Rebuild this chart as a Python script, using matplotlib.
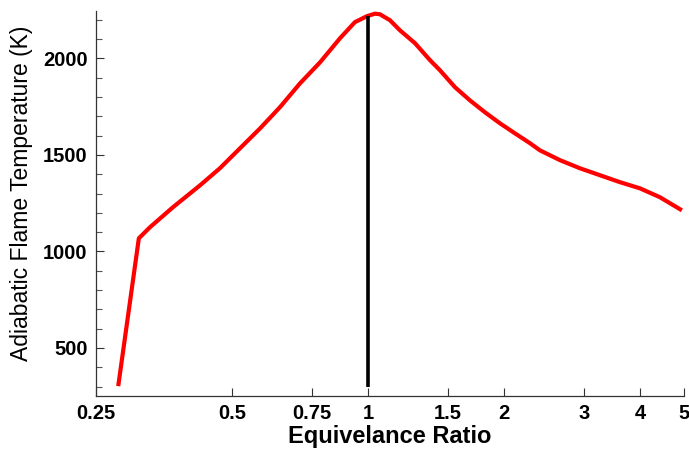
import matplotlib
matplotlib.use("Agg")
import matplotlib.pyplot as plt
from matplotlib.ticker import FixedLocator, NullLocator, MultipleLocator

# Equivalence ratio vs adiabatic flame temperature
phi = [0.280, 0.311, 0.329, 0.370, 0.425, 0.470, 0.521, 0.577, 0.638, 0.707,
       0.783, 0.867, 0.935, 0.994, 1.036, 1.062, 1.118, 1.176, 1.270, 1.371,
       1.442, 1.557, 1.680, 1.814, 1.958, 2.113, 2.281, 2.400, 2.658, 2.943,
       3.258, 3.608, 3.995, 4.423, 4.947]
temp = [302, 1068, 1125, 1229, 1343, 1431, 1535, 1638, 1747, 1871,
        1980, 2105, 2188, 2219, 2232, 2229, 2198, 2146, 2079, 1991,
        1939, 1851, 1783, 1721, 1664, 1612, 1561, 1524, 1473, 1431,
        1395, 1359, 1327, 1281, 1213]

# stoichiometric marker
stoich_phi = 1.0
stoich_temp = [300, 2222]

xticks = [0.25, 0.5, 0.75, 1, 1.5, 2, 3, 4, 5]
xtick_labels = ["0.25", "0.5", "0.75", "1", "1.5", "2", "3", "4", "5"]
yticks = [500, 1000, 1500, 2000]

plt.rcParams["font.family"] = ["Liberation Sans", "DejaVu Sans"]

fig = plt.figure(figsize=(6.89, 4.5), dpi=100)
ax = fig.add_axes([0.1393, 0.12, 0.9927 - 0.1393, 0.9756 - 0.12])

ax.plot(phi, temp, color="#ff0000", lw=3.0, solid_capstyle="butt",
        solid_joinstyle="round")
ax.plot([stoich_phi, stoich_phi], stoich_temp, color="black", lw=2.6,
        solid_capstyle="butt")

ax.set_xscale("log")
ax.set_xlim(0.25, 5)
ax.set_ylim(251, 2246)

ax.xaxis.set_major_locator(FixedLocator(xticks))
ax.set_xticklabels(xtick_labels)
ax.xaxis.set_minor_locator(NullLocator())
ax.yaxis.set_major_locator(FixedLocator(yticks))
ax.yaxis.set_minor_locator(MultipleLocator(100))

for s in ["top", "right"]:
    ax.spines[s].set_visible(False)
for s in ["left", "bottom"]:
    ax.spines[s].set_color("#333333")
    ax.spines[s].set_linewidth(0.9)

ax.tick_params(which="major", direction="in", length=6, width=0.8,
               color="#333333", labelsize=14.5, pad=6)
ax.tick_params(which="minor", direction="in", length=4, width=0.8,
               color="#555555")
for lab in ax.get_xticklabels() + ax.get_yticklabels():
    lab.set_fontweight("bold")

ax.set_xlabel("Equivelance Ratio", fontsize=17, fontweight="bold", labelpad=1)
ax.set_ylabel("Adiabatic Flame Temperature (K)", fontsize=16.5)
ax.yaxis.set_label_coords(-0.107, 0.526)

fig.savefig("out.png", dpi=100)
